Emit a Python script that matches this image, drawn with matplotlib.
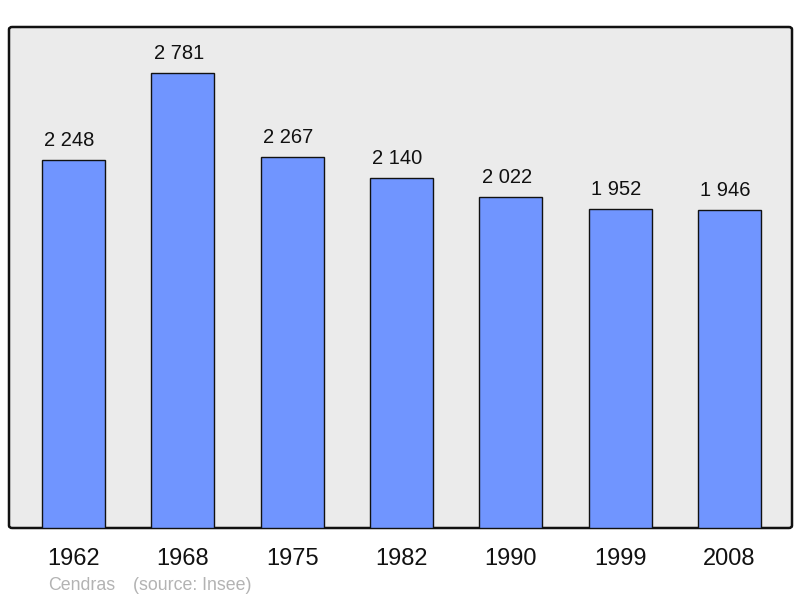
import matplotlib
matplotlib.use("Agg")
import matplotlib.pyplot as plt
from matplotlib.patches import FancyBboxPatch

years = ["1962", "1968", "1975", "1982", "1990", "1999", "2008"]
population = [2248, 2781, 2267, 2140, 2022, 1952, 1946]
labels = ["2 248", "2 781", "2 267", "2 140", "2 022", "1 952", "1 946"]

plt.rcParams['font.family'] = ['Liberation Sans', 'DejaVu Sans']

W, H = 800, 598
fig = plt.figure(figsize=(W/100, H/100), dpi=100)
left, right, top, bottom = 9, 792, 27, 528
ax = fig.add_axes([left/W, 1-bottom/H, (right-left)/W, (bottom-top)/H])
ax.set_facecolor('none')
for s in ax.spines.values():
    s.set_visible(False)

frame = FancyBboxPatch((left/W, 1-bottom/H), (right-left)/W, (bottom-top)/H,
                       boxstyle="round,pad=0,rounding_size=0.004",
                       transform=fig.transFigure, facecolor='#ebebeb',
                       edgecolor='#111111', linewidth=1.8, zorder=-1)
fig.patches.append(frame)

x = list(range(len(years)))
ax.bar(x, population, width=0.577, color='#7095ff', edgecolor='#111111',
       linewidth=1.0, zorder=2)
for xi, v, lab in zip(x, population, labels):
    ax.annotate(lab, (xi, v), xytext=(-3, 7), textcoords='offset points',
                ha='center', va='bottom', fontsize=14.5, color='#111111')

ax.set_xlim(-0.59, 6.572)
ax.set_ylim(0, 3062)
ax.set_yticks([])
ax.set_xticks(x)
ax.set_xticklabels(years, fontsize=17, color='#111111')
ax.tick_params(axis='x', length=0, pad=14.5)

fig.text(48/W, 1-585.5/H, "Cendras", fontsize=12.8, color='#b3b3b3', va='center', ha='left')
fig.text(133/W, 1-585.5/H, "(source: Insee)", fontsize=12.8, color='#b3b3b3', va='center', ha='left')

fig.savefig("out.png", dpi=100)
